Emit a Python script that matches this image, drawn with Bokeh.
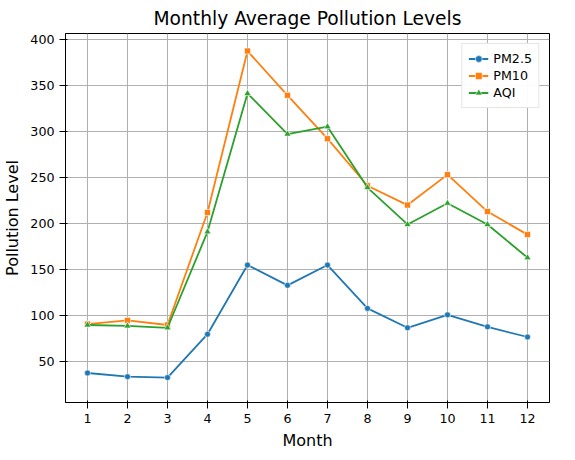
from bokeh.plotting import figure
from bokeh.embed import file_html
from bokeh.resources import INLINE
from bokeh.models import FixedTicker, Range1d, Legend, LegendItem

months = list(range(1, 13))
pm25 = [38, 34, 33, 80, 155, 133, 155, 108, 87, 101, 88, 77]
pm10 = [91, 95, 90, 212, 387, 339, 292, 241, 220, 253, 213, 188]
aqi = [90, 89, 87, 191, 341, 297, 305, 239, 199, 222, 199, 163]

p = figure(width=559, height=452, output_backend="svg", toolbar_location=None,
           title="Monthly Average Pollution Levels",
           x_range=Range1d(0.45, 12.55), y_range=Range1d(6, 406),
           min_border_left=62, min_border_right=10, min_border_top=8, min_border_bottom=40)
p.title.align = "center"
p.title.text_font_size = "14pt"
p.title.text_font_style = "normal"
p.title.text_font = "DejaVu Sans"
p.title.text_color = "black"
p.xaxis.ticker = FixedTicker(ticks=months)
p.yaxis.ticker = FixedTicker(ticks=[50, 100, 150, 200, 250, 300, 350, 400])
p.xaxis.axis_label = "Month"
p.yaxis.axis_label = "Pollution Level"
for ax in (p.xaxis, p.yaxis):
    ax.axis_label_text_font_size = "12pt"
    ax.axis_label_text_font_style = "normal"
    ax.axis_label_text_font = "DejaVu Sans"
    ax.axis_label_text_color = "black"
    ax.major_label_text_font_size = "9.5pt"
    ax.major_label_text_font = "DejaVu Sans"
    ax.major_label_text_color = "black"
    ax.minor_tick_line_color = None
    ax.axis_line_color = "black"
    ax.major_tick_line_color = "black"
p.grid.grid_line_color = "#b0b0b0"
p.grid.grid_line_alpha = 1
p.outline_line_color = "black"

c1, c2, c3 = "#1f77b4", "#ff7f0e", "#2ca02c"
l1 = p.line(months, pm25, color=c1, line_width=1.8)
m1 = p.scatter(months, pm25, color=c1, size=6, marker="circle", line_color="white", line_width=0.6)
l2 = p.line(months, pm10, color=c2, line_width=1.8)
m2 = p.scatter(months, pm10, color=c2, size=6, marker="square", line_color="white", line_width=0.6)
l3 = p.line(months, aqi, color=c3, line_width=1.8)
m3 = p.scatter(months, aqi, color=c3, size=7, marker="triangle", line_color="white", line_width=0.6)

leg = Legend(items=[LegendItem(label="PM2.5", renderers=[l1, m1]),
                    LegendItem(label="PM10", renderers=[l2, m2]),
                    LegendItem(label="AQI", renderers=[l3, m3])],
             location="top_right", label_text_font_size="9.5pt", label_text_font="DejaVu Sans",
             label_text_color="black",
             border_line_color="#cccccc", spacing=0, padding=6, glyph_height=17, label_height=17)
p.add_layout(leg)

open("out.html", "w").write(file_html(p, INLINE))
